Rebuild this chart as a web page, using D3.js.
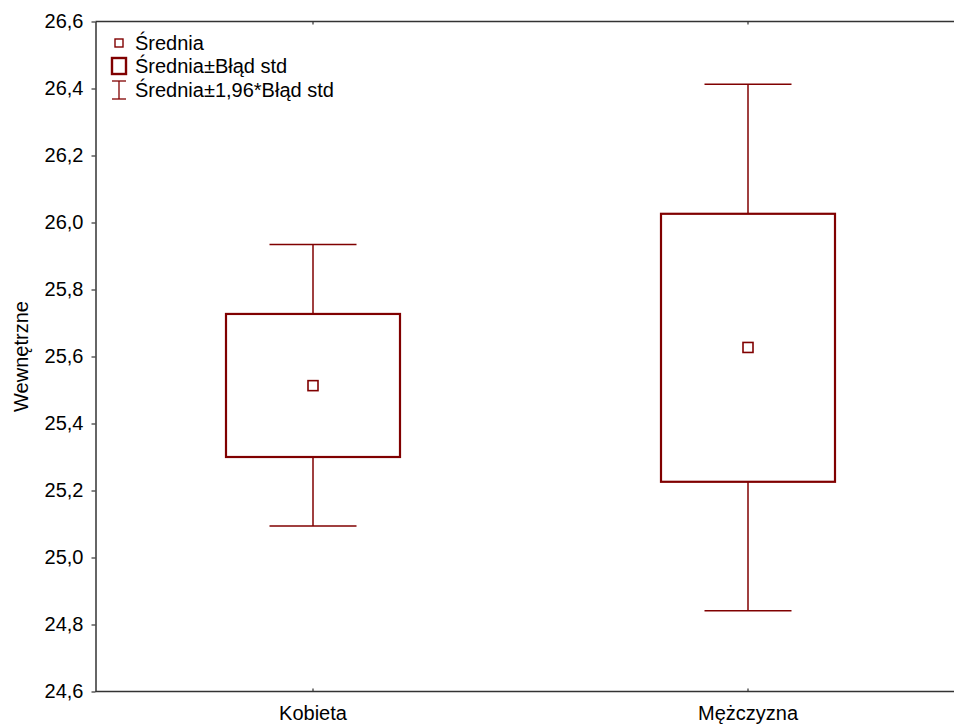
<!DOCTYPE html>
<html>
<head>
<meta charset="utf-8">
<script src="https://cdn.jsdelivr.net/npm/d3@7"></script>
<style>
  html, body { margin: 0; padding: 0; background: #fff; overflow: hidden; }
  svg { display: block; overflow: hidden; }
  text { font-family: "Liberation Sans", Arial, sans-serif; fill: #000; }
</style>
</head>
<body>
<svg id="chart" width="954" height="725"></svg>
<script>
// ---- data ----
const categories = ["Kobieta", "Mężczyzna"];
const means      = [25.513, 25.627];
const seLow      = [25.300, 25.226];
const seHigh     = [25.727, 26.026];
const ciLow      = [25.094, 24.841];
const ciHigh     = [25.934, 26.413];
const yTicks     = [24.6, 24.8, 25.0, 25.2, 25.4, 25.6, 25.8, 26.0, 26.2, 26.4, 26.6];
const yTitle     = "Wewnętrzne";
const legendLabels = ["Średnia", "Średnia±Błąd std", "Średnia±1,96*Błąd std"];

const color = "#800000";
const axisColor = "#333";
const W = 954;
const svg = d3.select("#chart");

const x = d3.scaleBand().domain(categories).range([95.5, 965.5]).padding(0);
const y = d3.scaleLinear().domain([24.6, 26.6]).range([691.5, 21.5]);

const fmt = d => d3.format(".1f")(d).replace(".", ",");

// Y axis
const yAxis = svg.append("g")
  .attr("transform", "translate(95.5,0)")
  .call(d3.axisLeft(y).tickValues(yTicks).tickFormat(fmt).tickSize(4).tickSizeOuter(0).tickPadding(8));
yAxis.select(".domain").attr("stroke", axisColor).attr("stroke-width", 1.5);
yAxis.selectAll(".tick line").attr("stroke", axisColor).attr("stroke-width", 1.2);
yAxis.selectAll(".tick text").style("font-size", "20px").style("font-family", "Liberation Sans, Arial, sans-serif").attr("fill", "#000");

// Bottom axis
const xAxis = svg.append("g")
  .attr("transform", "translate(0,691.5)")
  .call(d3.axisBottom(x).tickSize(-3).tickSizeOuter(0).tickPadding(14));
xAxis.select(".domain").remove();
xAxis.append("line").attr("x1", 95.5).attr("x2", W).attr("y1", 0).attr("y2", 0)
  .attr("stroke", axisColor).attr("stroke-width", 1.5);
xAxis.selectAll(".tick line").attr("stroke", axisColor).attr("stroke-width", 1.2);
xAxis.selectAll(".tick text").style("font-size", "20px").style("font-family", "Liberation Sans, Arial, sans-serif").attr("fill", "#000");

// Top axis
const xTop = svg.append("g")
  .attr("transform", "translate(0,21.5)")
  .call(d3.axisTop(x).tickSize(-3).tickSizeOuter(0).tickFormat(""));
xTop.select(".domain").remove();
xTop.append("line").attr("x1", 95.5).attr("x2", W).attr("y1", 0).attr("y2", 0)
  .attr("stroke", axisColor).attr("stroke-width", 1.5);
xTop.selectAll(".tick line").attr("stroke", axisColor).attr("stroke-width", 1.2);

// Y title
svg.append("text")
  .attr("transform", `translate(28,${(y(24.6) + y(26.6)) / 2}) rotate(-90)`)
  .attr("text-anchor", "middle")
  .style("font-size", "20px")
  .text(yTitle);

// Marks
const rows = categories.map((c, i) => ({c, m: means[i], lo: seLow[i], hi: seHigh[i], cl: ciLow[i], ch: ciHigh[i]}));
const bw = x.bandwidth() * 0.4;
const cw = x.bandwidth() * 0.2;
const g = svg.append("g");

rows.forEach(d => {
  const cx = x(d.c) + x.bandwidth() / 2;
  // whiskers
  g.append("line").attr("x1", cx).attr("x2", cx).attr("y1", y(d.ch)).attr("y2", y(d.hi))
    .attr("stroke", color).attr("stroke-width", 1.5);
  g.append("line").attr("x1", cx).attr("x2", cx).attr("y1", y(d.lo)).attr("y2", y(d.cl))
    .attr("stroke", color).attr("stroke-width", 1.5);
  g.append("line").attr("x1", cx - cw / 2).attr("x2", cx + cw / 2).attr("y1", y(d.ch)).attr("y2", y(d.ch))
    .attr("stroke", color).attr("stroke-width", 1.5);
  g.append("line").attr("x1", cx - cw / 2).attr("x2", cx + cw / 2).attr("y1", y(d.cl)).attr("y2", y(d.cl))
    .attr("stroke", color).attr("stroke-width", 1.5);
  // box
  g.append("rect").attr("x", cx - bw / 2).attr("width", bw)
    .attr("y", y(d.hi)).attr("height", y(d.lo) - y(d.hi))
    .attr("fill", "none").attr("stroke", color).attr("stroke-width", 2.2);
  // mean
  g.append("rect").attr("x", cx - 5).attr("y", y(d.m) - 5).attr("width", 10).attr("height", 10)
    .attr("fill", "#fff").attr("stroke", color).attr("stroke-width", 1.6);
});

// Legend
const lg = svg.append("g");
const lx = 119;
lg.append("rect").attr("x", lx - 4).attr("y", 39).attr("width", 8).attr("height", 8)
  .attr("fill", "#fff").attr("stroke", color).attr("stroke-width", 1.4);
lg.append("rect").attr("x", lx - 7).attr("y", 58).attr("width", 14).attr("height", 16)
  .attr("fill", "#fff").attr("stroke", color).attr("stroke-width", 2.4);
lg.append("line").attr("x1", lx).attr("x2", lx).attr("y1", 81).attr("y2", 99).attr("stroke", color).attr("stroke-width", 1.3);
lg.append("line").attr("x1", lx - 7).attr("x2", lx + 7).attr("y1", 81).attr("y2", 81).attr("stroke", color).attr("stroke-width", 1.3);
lg.append("line").attr("x1", lx - 7).attr("x2", lx + 7).attr("y1", 99).attr("y2", 99).attr("stroke", color).attr("stroke-width", 1.3);
const baselines = [49.5, 73, 96.5];
legendLabels.forEach((t, i) => {
  lg.append("text").attr("x", 135).attr("y", baselines[i]).style("font-size", "20px").text(t);
});
</script>
</body>
</html>
